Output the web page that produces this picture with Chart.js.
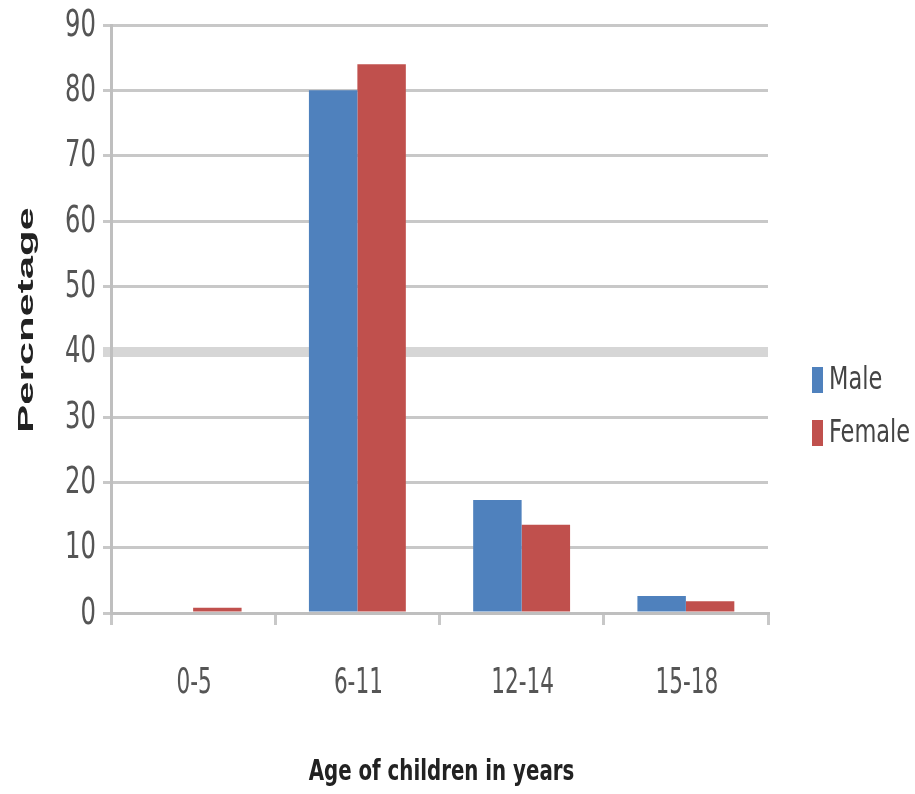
<!DOCTYPE html>
<html>
<head>
<meta charset="utf-8">
<script src="https://cdn.jsdelivr.net/npm/chart.js@4.4.1/dist/chart.umd.min.js"></script>
<style>
  html, body { margin: 0; padding: 0; background: #ffffff; }
  #wrap { width: 915px; height: 794px; }
</style>
</head>
<body>
<div id="wrap"><canvas id="chart" width="915" height="794"></canvas></div>
<script>
// Age groups and the share of children (%) in each, by sex
const ageGroups = ['0-5', '6-11', '12-14', '15-18'];
const maleValues = [0, 80, 17.3, 2.6];
const femaleValues = [0.8, 84, 13.5, 1.8];
const seriesNames = ['Male', 'Female'];
const yTicks = [0, 10, 20, 30, 40, 50, 60, 70, 80, 90];
const xTitle = 'Age of children in years';
const yTitle = 'Percnetage';

const COND = "'DejaVu Sans Condensed', 'DejaVu Sans', sans-serif";
const GRID = '#c8c8c8';

// Draws a text line with a tall, condensed look by stretching it vertically
function tallText(ctx, text, x, y, font, sy, color, align) {
  ctx.save();
  ctx.translate(x, y);
  ctx.scale(1, sy);
  ctx.font = font;
  ctx.fillStyle = color;
  ctx.textAlign = align;
  ctx.textBaseline = 'middle';
  ctx.fillText(text, 0, 0);
  ctx.restore();
}

// Axis labels, axis titles and side legend
const textLayer = {
  id: 'textLayer',
  afterDraw(chart) {
    const ctx = chart.ctx;
    const xs = chart.scales.x;
    const ys = chart.scales.y;

    // y tick labels
    yTicks.forEach(v => {
      tallText(ctx, String(v), 96, ys.getPixelForValue(v) + 1, '27px ' + COND, 1.4, '#555555', 'right');
    });

    // category labels
    ageGroups.forEach((g, i) => {
      tallText(ctx, g, xs.getPixelForTick(i) + 1, 684, '24px ' + COND, 1.5, '#555555', 'center');
    });

    // x title
    tallText(ctx, xTitle, (chart.chartArea.left + chart.chartArea.right) / 2 + 2, 773,
      'bold 22px ' + COND, 1.3, '#222222', 'center');

    // rotated y title, stretched along its length
    ctx.save();
    ctx.translate(27, 320);
    ctx.rotate(-Math.PI / 2);
    ctx.scale(1.9, 1);
    ctx.font = "bold 22px 'Liberation Sans', Arial, sans-serif";
    ctx.fillStyle = '#222222';
    ctx.textAlign = 'center';
    ctx.textBaseline = 'middle';
    ctx.fillText(yTitle, 0, 0);
    ctx.restore();

    // legend: tall swatch + label per series
    chart.data.datasets.forEach((ds, i) => {
      const cy = 380 + i * 53;
      ctx.fillStyle = ds.backgroundColor;
      ctx.fillRect(812, cy - 13, 11, 26);
      tallText(ctx, ds.label, 829, cy + 1, '25px ' + COND, 1.3, '#444444', 'left');
    });
  }
};

new Chart(document.getElementById('chart'), {
  type: 'bar',
  data: {
    labels: ageGroups,
    datasets: [
      { label: seriesNames[0], data: maleValues, backgroundColor: '#4f81bd' },
      { label: seriesNames[1], data: femaleValues, backgroundColor: '#c0504d' }
    ]
  },
  options: {
    responsive: false,
    animation: false,
    devicePixelRatio: 1,
    layout: { padding: { top: 25, right: 147, bottom: 0, left: 0 } },
    datasets: { bar: { categoryPercentage: 0.59, barPercentage: 1.0 } },
    plugins: {
      legend: { display: false },
      tooltip: { enabled: false },
      title: { display: false }
    },
    scales: {
      x: {
        grid: {
          display: true,
          offset: true,
          drawOnChartArea: false,
          drawTicks: true,
          tickLength: 12,
          color: GRID,
          lineWidth: 3
        },
        border: { display: true, color: '#bfbfbf', width: 3 },
        ticks: { display: false },
        title: { display: false },
        afterFit(scale) { scale.height = 181; }
      },
      y: {
        min: 0,
        max: 90,
        afterBuildTicks(scale) { scale.ticks = yTicks.map(v => ({ value: v })); },
        grid: {
          drawTicks: true,
          tickLength: 8,
          color: ctx => (ctx.tick && ctx.tick.value === 40 ? '#d6d6d6' : GRID),
          lineWidth: ctx => (ctx.tick && ctx.tick.value === 40 ? 10 : 3)
        },
        border: { display: true, color: '#bfbfbf', width: 3 },
        ticks: { display: false },
        afterFit(scale) { scale.width = 111; }
      }
    }
  },
  plugins: [textLayer]
});
</script>
</body>
</html>
